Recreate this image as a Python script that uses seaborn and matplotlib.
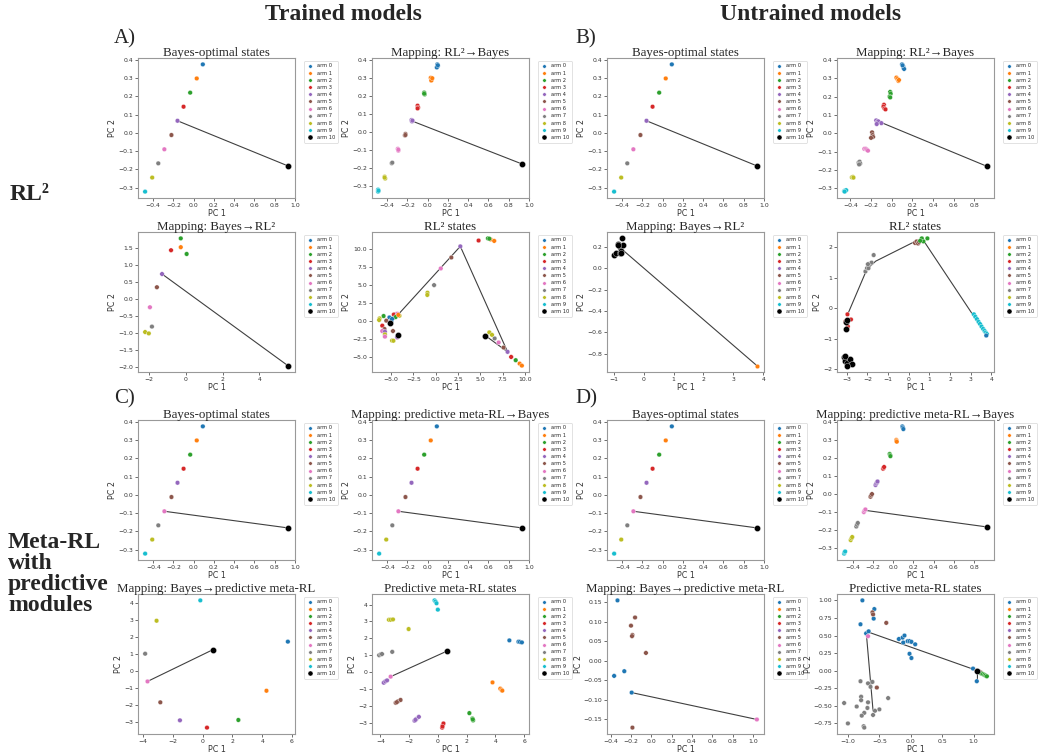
import numpy as np
import pandas as pd
import matplotlib
matplotlib.use("Agg")
import matplotlib.pyplot as plt
from matplotlib.lines import Line2D
import seaborn as sns

# =========================
# Data
# =========================

ARMS = ["arm %d" % i for i in range(11)]
COLORS = sns.color_palette("tab10", 10).as_hex() + ["#000000"]

# Bayes-optimal states (same in all four "Bayes-optimal states" panels)
bayes_arm = [0, 1, 2, 3, 4, 5, 6, 7, 8, 9, 10]
bayes_x = [0.09, 0.03, -0.035, -0.10, -0.16, -0.22, -0.29, -0.35, -0.41, -0.48, 0.93]
bayes_y = [0.375, 0.298, 0.22, 0.143, 0.066, -0.012, -0.09, -0.167, -0.245, -0.322, -0.181]
bayes_line_a_x = [-0.16, 0.93]
bayes_line_a_y = [0.066, -0.181]
bayes_line_c_x = [-0.29, 0.93]
bayes_line_c_y = [-0.09, -0.181]

# A) trained RL2 -> Bayes
a_map_arm = [0, 0, 0, 0, 1, 1, 1, 1, 2, 2, 2, 3, 3, 3, 4, 4, 4, 5, 5, 5,
             6, 6, 6, 7, 7, 8, 8, 8, 9, 9, 9, 10]
a_map_x = [0.095, 0.10, 0.09, 0.10, 0.03, 0.04, 0.035, 0.045, -0.035, -0.03, -0.035,
           -0.10, -0.095, -0.10, -0.16, -0.155, -0.15, -0.22, -0.225, -0.22,
           -0.295, -0.29, -0.29, -0.355, -0.35, -0.425, -0.42, -0.425, -0.49, -0.49, -0.485, 0.935]
a_map_y = [0.375, 0.365, 0.358, 0.37, 0.30, 0.29, 0.285, 0.298, 0.218, 0.208, 0.212,
           0.145, 0.135, 0.13, 0.065, 0.058, 0.062, -0.012, -0.02, -0.018,
           -0.095, -0.105, -0.10, -0.175, -0.172, -0.25, -0.26, -0.255, -0.322, -0.333, -0.328, -0.18]
a_map_line_x = [-0.155, 0.935]
a_map_line_y = [0.06, -0.18]

# A) trained Bayes -> RL2
a_inv_arm = [1, 2, 2, 3, 4, 5, 6, 7, 8, 8, 10]
a_inv_x = [-0.28, -0.28, 0.04, -0.81, -1.30, -1.58, -1.96, -1.85, -2.22, -2.02, 5.55]
a_inv_y = [1.52, 1.78, 1.32, 1.43, 0.73, 0.34, -0.25, -0.82, -0.98, -1.02, -1.97]
a_inv_line_x = [-1.30, 5.55]
a_inv_line_y = [0.73, -1.97]

# A) trained RL2 states
a_rl2_arm = [3, 2, 1, 2, 1,
             4, 5, 6, 7, 8, 8,
             8, 8, 7, 6, 5, 4, 3, 2, 1, 1, 10,
             2, 8, 8, 0, 4, 3, 6, 8, 2, 10, 3, 5, 6, 4, 8, 6, 5, 10, 6, 4, 8, 8, 0, 5, 1, 0]
a_rl2_x = [4.8, 5.85, 6.15, 6.0, 6.55,
           2.75, 1.74, 0.56, -0.19, -0.93, -0.95,
           6.0, 6.3, 6.6, 7.05, 7.6, 8.05, 8.45, 8.96, 9.4, 9.65, 5.55,
           -5.85, -6.3, -6.35, -5.2, -4.45, -4.7, -4.3, -4.07, -4.5, -5.1, -6.0, -5.75, -6.0,
           -5.7, -5.7, -5.7, -4.8, -4.26, -4.33, -4.33, -4.9, -4.75, -4.96, -5.55, -4.2, -4.9]
a_rl2_y = [11.1, 11.4, 11.25, 11.35, 11.05,
           10.3, 8.76, 7.25, 4.95, 3.9, 3.6,
           -1.56, -1.9, -2.4, -2.95, -3.65, -4.25, -4.95, -5.4, -5.87, -6.15, -2.0,
           0.69, 0.37, 0.14, 0.5, 0.96, 0.9, 1.0, 0.73, 0.55, -0.3, -0.64, -1.1, -1.38,
           -1.47, -1.84, -2.15, -1.38, -1.93, -2.3, -2.2, -2.7, -2.72, 0.05, 0.05, 0.85, 0.3]
a_rl2_line_x = [-5.1, 2.75, 8.05, 5.55]
a_rl2_line_y = [-0.3, 10.3, -4.25, -2.0]

# B) untrained RL2 -> Bayes
b_map_arm = [0, 0, 0, 0, 0, 1, 1, 1, 1, 2, 2, 2, 2, 3, 3, 3, 3, 4, 4, 4, 4, 4,
             5, 5, 5, 5, 6, 6, 6, 6, 7, 7, 7, 7, 8, 8, 8, 9, 9, 9, 9, 10]
b_map_x = [0.10, 0.11, 0.115, 0.12, 0.105, 0.045, 0.055, 0.065, 0.07,
           -0.015, -0.01, -0.02, -0.015, -0.075, -0.08, -0.07, -0.06,
           -0.15, -0.14, -0.13, -0.10, -0.145, -0.19, -0.185, -0.18, -0.2,
           -0.265, -0.25, -0.24, -0.23, -0.32, -0.31, -0.305, -0.315,
           -0.385, -0.375, -0.37, -0.46, -0.45, -0.44, -0.455, 0.92]
b_map_y = [0.375, 0.365, 0.355, 0.35, 0.37, 0.303, 0.295, 0.285, 0.29,
           0.225, 0.215, 0.20, 0.195, 0.155, 0.145, 0.135, 0.13,
           0.07, 0.06, 0.065, 0.055, 0.05, 0.005, -0.01, -0.02, -0.025,
           -0.085, -0.085, -0.09, -0.095, -0.16, -0.155, -0.165, -0.17,
           -0.24, -0.238, -0.242, -0.315, -0.312, -0.31, -0.318, -0.18]
b_map_line_x = [-0.13, 0.92]
b_map_line_y = [0.065, -0.18]

# B) untrained Bayes -> RL2
b_inv_arm = [10, 10, 10, 10, 10, 10, 10, 10, 10, 10, 1]
b_inv_x = [-0.98, -0.92, -0.85, -0.80, -0.77, -0.71, -0.76, -0.67, -0.84, -0.74, 3.78]
b_inv_y = [0.125, 0.147, 0.228, 0.14, 0.203, 0.28, 0.166, 0.219, 0.219, 0.14, -0.91]
b_inv_line_x = [-0.77, 3.78]
b_inv_line_y = [0.19, -0.91]

# B) untrained RL2 states
b_rl2_arm = [10, 10, 10, 10, 10, 10, 10,
             3, 3, 3, 3, 3, 10, 10, 10,
             7, 7, 7, 7, 7, 7, 7,
             5, 5, 5, 5, 2, 2, 2, 2,
             9, 9, 9, 9, 9, 9, 9, 9, 9, 9, 0]
b_rl2_x = [-3.13, -3.08, -3.0, -2.87, -2.76, -3.1, -3.0,
           -2.97, -2.8, -2.95, -3.07, -3.05, -3.02, -3.02, -2.98,
           -2.1, -2.02, -1.9, -1.8, -1.7, -1.95, -1.98,
           0.3, 0.38, 0.45, 0.5, 0.63, 0.9, 0.71, 0.55,
           3.15, 3.22, 3.3, 3.38, 3.45, 3.52, 3.6, 3.67, 3.73, 3.78, 3.75]
b_rl2_y = [-1.62, -1.73, -1.81, -1.67, -1.85, -1.58, -1.89,
           -0.2, -0.37, -0.6, -0.44, -0.47, -0.44, -0.68, -0.4,
           1.21, 1.32, 1.46, 1.5, 1.75, 1.32, 1.45,
           2.15, 2.2, 2.13, 2.18, 2.3, 2.3, 2.2, 2.22,
           -0.2, -0.28, -0.36, -0.45, -0.52, -0.6, -0.68, -0.75, -0.8, -0.85, -0.9]
b_rl2_line_x = [-2.97, -2.03, -1.6, 0.25, 0.72, 3.77]
b_rl2_line_y = [-0.22, 1.28, 1.55, 2.18, 2.22, -0.9]

# C) trained Bayes -> predictive meta-RL
c_inv_arm = [9, 8, 0, 7, 10, 6, 1, 5, 4, 2, 3]
c_inv_x = [-0.16, -3.1, 5.73, -3.87, 0.67, -3.71, 4.29, -2.85, -1.53, 2.4, 0.29]
c_inv_y = [4.16, 2.96, 1.73, 1.02, 1.25, -0.61, -1.16, -1.84, -2.9, -2.88, -3.33]
c_inv_line_x = [-3.71, 0.67]
c_inv_line_y = [-0.61, 1.25]

# C) trained predictive meta-RL states
c_pred_arm = [9, 9, 9, 9, 8, 8, 8, 8, 0, 0, 0, 0, 7, 7, 7, 7, 10, 6, 4, 4, 4,
              1, 1, 1, 1, 5, 5, 5, 5, 4, 4, 4, 4, 3, 3, 3, 3, 2, 2, 2, 2]
c_pred_x = [-0.23, -0.16, -0.09, 0.0, -3.4, -3.28, -3.12, -2.03, 4.97, 5.6, 5.7, 5.84,
            -4.08, -3.96, -3.88, -3.17, 0.65, -3.28, -3.76, -3.65, -3.53,
            3.8, 4.34, 4.43, 4.48, -2.93, -2.77, -2.59, -2.85, -1.62, -1.5, -1.32, -1.56,
            0.3, 0.35, 0.39, 0.32, 2.19, 2.4, 2.45, 2.43]
c_pred_y = [4.25, 4.18, 4.08, 3.7, 3.1, 3.1, 3.12, 2.55, 1.88, 1.8, 1.79, 1.76,
            1.0, 1.06, 1.07, 1.2, 1.25, -0.27, -0.63, -0.55, -0.49,
            -0.61, -0.98, -1.06, -1.1, -1.82, -1.73, -1.65, -1.78, -2.88, -2.78, -2.65, -2.83,
            -3.29, -3.14, -3.04, -3.22, -2.43, -2.75, -2.86, -2.8]
c_pred_line_x = [-3.28, 0.65]
c_pred_line_y = [-0.27, 1.25]

# D) untrained predictive meta-RL -> Bayes
d_map_arm = [0, 0, 0, 1, 1, 1, 2, 2, 2, 3, 3, 3, 4, 4, 4, 4, 5, 5, 5,
             6, 6, 6, 7, 7, 7, 8, 8, 8, 9, 9, 9, 10]
d_map_x = [0.09, 0.095, 0.10, 0.03, 0.032, 0.035, -0.035, -0.03, -0.028,
           -0.10, -0.095, -0.09, -0.175, -0.168, -0.16, -0.155, -0.225, -0.218, -0.21,
           -0.29, -0.283, -0.275, -0.365, -0.358, -0.35, -0.42, -0.412, -0.405,
           -0.485, -0.48, -0.475, 0.925]
d_map_y = [0.375, 0.368, 0.36, 0.30, 0.295, 0.29, 0.222, 0.215, 0.21,
           0.14, 0.145, 0.15, 0.05, 0.058, 0.065, 0.07, -0.015, -0.008, 0.0,
           -0.1, -0.092, -0.085, -0.18, -0.17, -0.16, -0.255, -0.245, -0.238,
           -0.33, -0.322, -0.318, -0.182]
d_map_line_x = [-0.28, 0.925]
d_map_line_y = [-0.09, -0.182]

# D) untrained Bayes -> predictive meta-RL
d_inv_arm = [0, 5, 5, 5, 5, 5, 0, 0, 0, 6, 5]
d_inv_x = [-0.333, -0.16, -0.2, -0.186, -0.19, -0.053, -0.266, -0.366, -0.193, 1.04, -0.186]
d_inv_y = [0.155, 0.111, 0.09, 0.066, 0.063, 0.02, -0.027, -0.039, -0.082, -0.151, -0.172]
d_inv_line_x = [-0.193, 1.04]
d_inv_line_y = [-0.082, -0.151]

# D) untrained predictive meta-RL states
d_pred_arm = [0] * 18 + [5] * 8 + [6] + [7] * 19 + [2] * 5 + [10]
d_pred_x = [-0.77, -0.58, -0.59, -0.8, -0.71, -0.67, -0.19, -0.13, -0.1, -0.12, -0.05, -0.02,
            0.01, 0.07, -0.02, 0.01, 0.99, 1.05,
            -0.61, -0.6, -0.39, -0.54, 1.05, 1.08, 1.1, 1.12,
            -0.68,
            -0.8, -0.68, -0.64, -0.61, -0.79, -0.79, -0.36, -1.06, -0.86, -0.68, -0.69, -0.74,
            -0.5, -0.57, -0.78, -0.6, -1.0, -0.75, -0.74,
            1.12, 1.15, 1.17, 1.19, 1.21,
            1.06]
d_pred_y = [1.0, 0.876, 0.74, 0.66, 0.53, 0.56, 0.45, 0.47, 0.5, 0.4, 0.42, 0.42,
            0.41, 0.375, 0.24, 0.18, 0.03, -0.15,
            0.83, 0.8, 0.68, -0.24, 0.0, -0.01, -0.02, -0.03,
            0.49,
            -0.15, -0.18, -0.23, -0.16, -0.37, -0.42, -0.39, -0.46, -0.51, -0.45, -0.53, -0.6,
            -0.55, -0.57, -0.64, -0.63, -0.75, -0.79, -0.81,
            -0.04, -0.05, -0.06, -0.07, -0.08,
            0.0]
d_pred_line_x = [-0.6, -0.71, 1.06, 1.06]
d_pred_line_y = [-0.57, 0.56, 0.0, -0.15]

# =========================
# Style
# =========================

sns.set_theme(style="white")
plt.rcParams["font.family"] = ["DejaVu Sans"]
SERIF = ["Liberation Serif", "DejaVu Serif"]

fig = plt.figure(figsize=(10.38, 7.55), dpi=100)
W, H = 1038.0, 755.0

col_px = [138, 372, 607, 837]
row_px = [58, 232, 420, 594]
AX_W, AX_H = 157, 140


def make_ax(col, row):
    left = col_px[col] / W
    bottom = 1 - (row_px[row] + AX_H) / H
    return fig.add_axes([left, bottom, AX_W / W, AX_H / H])


def draw_panel(col, row, title, arm, x, y, lx, ly, xlim=None):
    ax = make_ax(col, row)
    df = pd.DataFrame({"x": x, "y": y, "arm": [ARMS[a] for a in arm]})
    pal = dict(zip(ARMS, COLORS))

    sns.lineplot(x=lx, y=ly, sort=False, estimator=None, color="black",
                 lw=0.8, alpha=0.75, ax=ax)
    small = df[df["arm"] != "arm 10"]
    if len(small):
        sns.scatterplot(data=small, x="x", y="y", hue="arm", palette=pal,
                        s=11, linewidth=0.25, edgecolor="white", legend=False,
                        ax=ax, zorder=3)
    big = df[df["arm"] == "arm 10"]
    if len(big):
        sns.scatterplot(data=big, x="x", y="y", color="black", s=20,
                        linewidth=0.25, edgecolor="white", legend=False,
                        ax=ax, zorder=4)
    if xlim is not None:
        ax.set_xlim(*xlim)

    ax.set_title(title, fontsize=9.3, family=SERIF, pad=1.5)
    ax.set_xlabel("PC 1", fontsize=5.8, labelpad=1.0, color="#333333")
    ax.set_ylabel("PC 2", fontsize=5.8, labelpad=0.8, color="#333333")
    ax.tick_params(labelsize=4.4, length=2, width=0.5, pad=1.3,
                   colors="#333333", bottom=True, left=True)
    for sp in ax.spines.values():
        sp.set_color("#999999")
        sp.set_linewidth(0.8)

    handles = []
    for i, name in enumerate(ARMS):
        handles.append(Line2D([], [], ls="", marker="o", color=COLORS[i],
                              markersize=3.6 if i == 10 else 2.5,
                              markeredgecolor="white", markeredgewidth=0.25))
    leg = ax.legend(handles, ARMS, loc="upper left", bbox_to_anchor=(1.06, 0.98),
                    borderaxespad=0, fontsize=3.7, labelspacing=0.42,
                    handlelength=1.3, handletextpad=0.6, borderpad=0.5,
                    frameon=True, fancybox=True)
    leg.get_frame().set_linewidth(0.5)
    leg.get_frame().set_edgecolor("#cccccc")
    return ax


# =========================
# Panels
# =========================

draw_panel(0, 0, "Bayes-optimal states", bayes_arm, bayes_x, bayes_y,
           bayes_line_a_x, bayes_line_a_y, xlim=(-0.55, 1.0))
draw_panel(1, 0, "Mapping: RL²→Bayes", a_map_arm, a_map_x, a_map_y,
           a_map_line_x, a_map_line_y, xlim=(-0.55, 1.0))
draw_panel(0, 1, "Mapping: Bayes→RL²", a_inv_arm, a_inv_x, a_inv_y,
           a_inv_line_x, a_inv_line_y)
draw_panel(1, 1, "RL² states", a_rl2_arm, a_rl2_x, a_rl2_y,
           a_rl2_line_x, a_rl2_line_y)

draw_panel(2, 0, "Bayes-optimal states", bayes_arm, bayes_x, bayes_y,
           bayes_line_a_x, bayes_line_a_y, xlim=(-0.55, 1.0))
draw_panel(3, 0, "Mapping: RL²→Bayes", b_map_arm, b_map_x, b_map_y,
           b_map_line_x, b_map_line_y)
draw_panel(2, 1, "Mapping: Bayes→RL²", b_inv_arm, b_inv_x, b_inv_y,
           b_inv_line_x, b_inv_line_y)
draw_panel(3, 1, "RL² states", b_rl2_arm, b_rl2_x, b_rl2_y,
           b_rl2_line_x, b_rl2_line_y)

draw_panel(0, 2, "Bayes-optimal states", bayes_arm, bayes_x, bayes_y,
           bayes_line_c_x, bayes_line_c_y)
draw_panel(1, 2, "Mapping: predictive meta-RL→Bayes", bayes_arm, bayes_x, bayes_y,
           bayes_line_c_x, bayes_line_c_y)
draw_panel(0, 3, "Mapping: Bayes→predictive meta-RL", c_inv_arm, c_inv_x, c_inv_y,
           c_inv_line_x, c_inv_line_y)
draw_panel(1, 3, "Predictive meta-RL states", c_pred_arm, c_pred_x, c_pred_y,
           c_pred_line_x, c_pred_line_y)

draw_panel(2, 2, "Bayes-optimal states", bayes_arm, bayes_x, bayes_y,
           bayes_line_c_x, bayes_line_c_y)
draw_panel(3, 2, "Mapping: predictive meta-RL→Bayes", d_map_arm, d_map_x, d_map_y,
           d_map_line_x, d_map_line_y)
draw_panel(2, 3, "Mapping: Bayes→predictive meta-RL", d_inv_arm, d_inv_x, d_inv_y,
           d_inv_line_x, d_inv_line_y)
draw_panel(3, 3, "Predictive meta-RL states", d_pred_arm, d_pred_x, d_pred_y,
           d_pred_line_x, d_pred_line_y)

# =========================
# Headers and labels
# =========================

fig.text(343 / W, 1 - 14 / H, "Trained models", ha="center", va="center",
         fontsize=17, fontweight="bold", family=SERIF)
fig.text(811 / W, 1 - 14 / H, "Untrained models", ha="center", va="center",
         fontsize=17, fontweight="bold", family=SERIF)

for letter, px, py in [("A)", 114, 39), ("B)", 575, 39), ("C)", 114, 399), ("D)", 575, 399)]:
    fig.text(px / W, 1 - py / H, letter, ha="left", va="center",
             fontsize=15, family=SERIF)

fig.text(10 / W, 1 - 200 / H, "RL²", ha="left", va="baseline",
         fontsize=17, fontweight="bold", family=SERIF)
for line, base in [("Meta-RL", 548), ("with", 569), ("predictive", 590), ("modules", 611)]:
    fig.text(8 / W, 1 - base / H, line, ha="left", va="baseline",
             fontsize=17, fontweight="bold", family=SERIF)

fig.savefig("out.png", dpi=100, facecolor="white")
